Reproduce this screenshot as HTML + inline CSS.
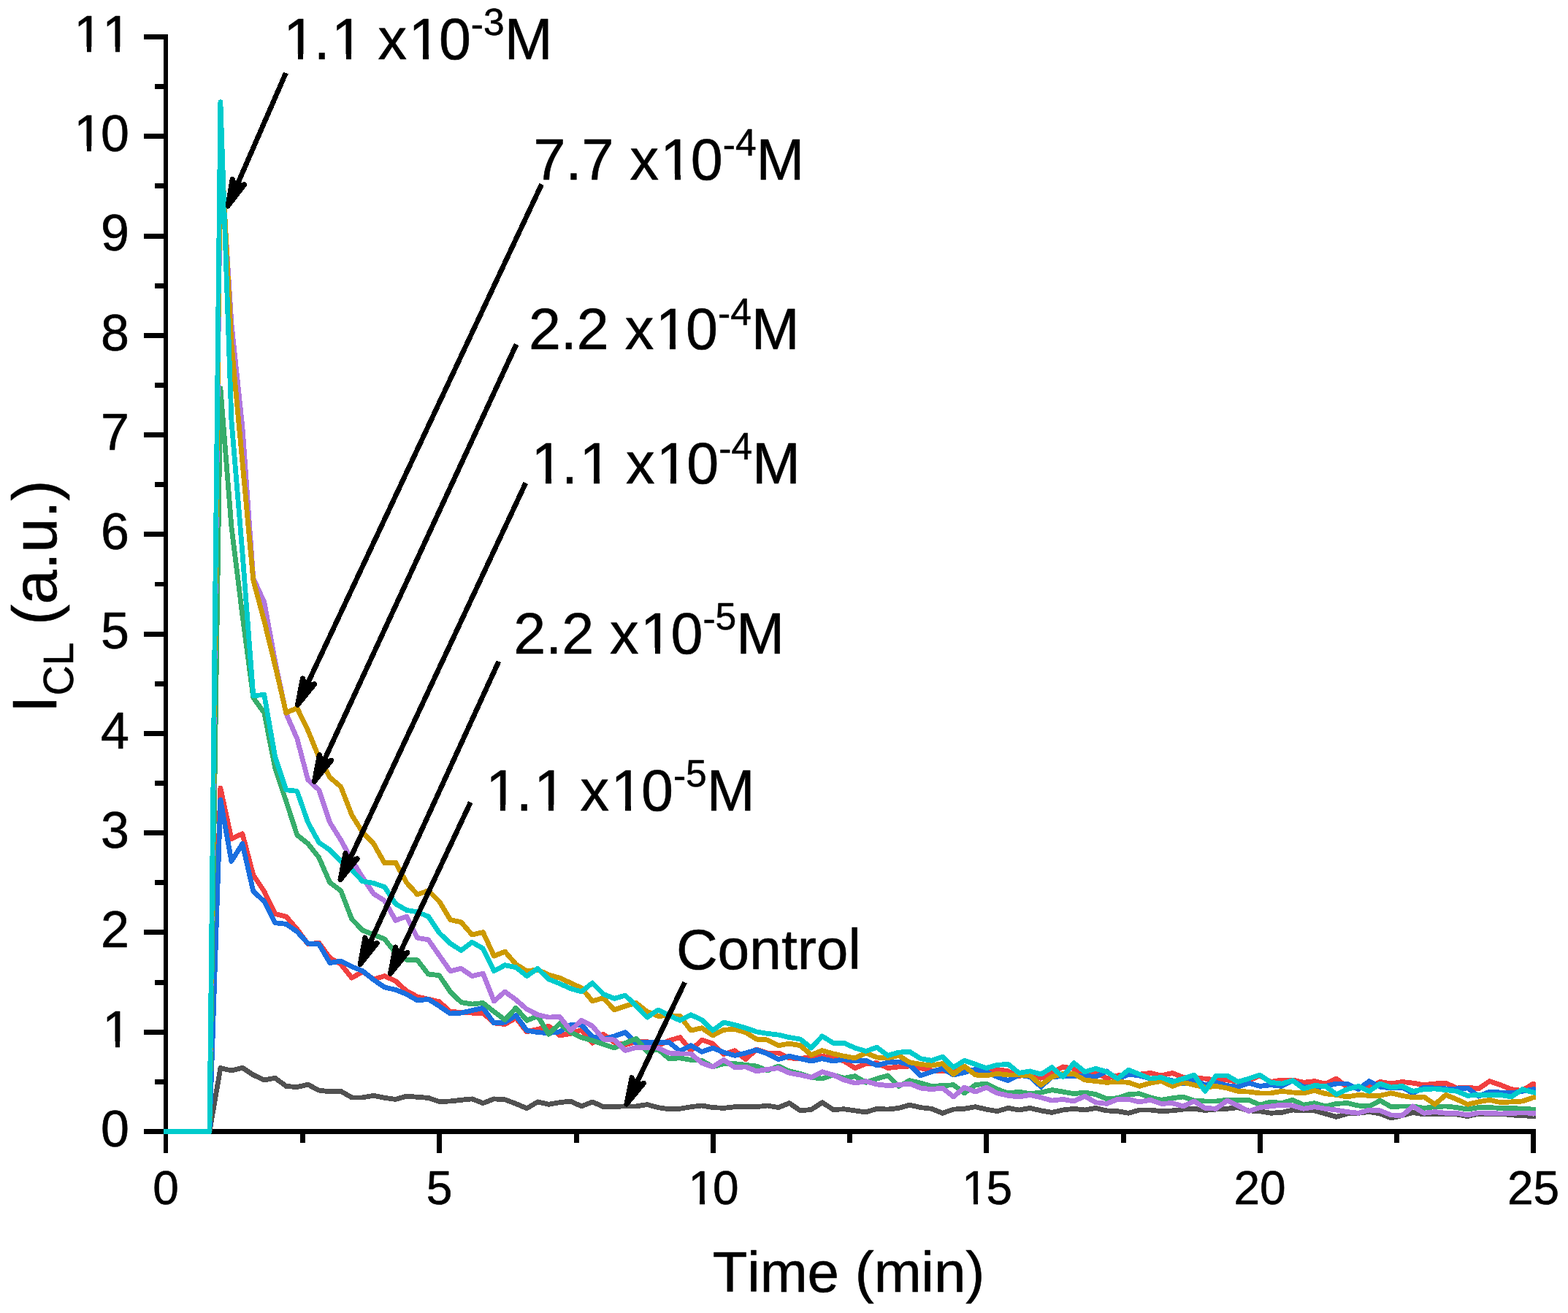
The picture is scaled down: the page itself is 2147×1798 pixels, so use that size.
<!DOCTYPE html>
<html lang="en"><head><meta charset="utf-8"><title>Chemiluminescence kinetics</title>
<style>
html,body{margin:0;padding:0;background:#fff;}
body{width:2147px;height:1798px;}
svg{display:block;font-family:"Liberation Sans", sans-serif;font-kerning:none;}
text{fill:#000;stroke:#000;stroke-width:0.6px;stroke-linejoin:round;}
.ax{fill:#000;}
.cv{fill:none;stroke-width:6.8;stroke-linejoin:round;stroke-linecap:butt;}
.yt{font-size:70px;}
.xt{font-size:64px;}
.lb{font-size:79px;}
.sp{font-size:51.5px;}
.ar{stroke:#000;stroke-width:7;fill:none;}
.ah{fill:#000;stroke:#000;stroke-width:7;stroke-linejoin:round;}
</style></head><body>
<svg width="2147" height="1798" viewBox="0 0 2147 1798" role="img" aria-label="Chemiluminescence intensity versus time">
<rect x="0" y="0" width="2147" height="1798" fill="#fff"/>
<g class="ax" shape-rendering="crispEdges">
<rect x="224" y="47" width="6" height="1506"/>
<rect x="224" y="1546" width="1879" height="7"/>
<rect x="197" y="1546" width="27" height="7"/>
<rect x="212" y="1478" width="12" height="7"/>
<rect x="197" y="1410" width="27" height="7"/>
<rect x="212" y="1342" width="12" height="7"/>
<rect x="197" y="1273" width="27" height="7"/>
<rect x="212" y="1205" width="12" height="7"/>
<rect x="197" y="1137" width="27" height="7"/>
<rect x="212" y="1069" width="12" height="7"/>
<rect x="197" y="1001" width="27" height="7"/>
<rect x="212" y="933" width="12" height="7"/>
<rect x="197" y="865" width="27" height="7"/>
<rect x="212" y="797" width="12" height="6"/>
<rect x="197" y="728" width="27" height="7"/>
<rect x="212" y="660" width="12" height="7"/>
<rect x="197" y="592" width="27" height="7"/>
<rect x="212" y="524" width="12" height="7"/>
<rect x="197" y="456" width="27" height="7"/>
<rect x="212" y="388" width="12" height="7"/>
<rect x="197" y="320" width="27" height="7"/>
<rect x="212" y="251" width="12" height="7"/>
<rect x="197" y="183" width="27" height="7"/>
<rect x="212" y="115" width="12" height="7"/>
<rect x="197" y="47" width="27" height="7"/>
<rect x="224" y="1553" width="6" height="26"/>
<rect x="411" y="1553" width="7" height="12"/>
<rect x="598" y="1553" width="7" height="26"/>
<rect x="786" y="1553" width="7" height="12"/>
<rect x="973" y="1553" width="7" height="26"/>
<rect x="1160" y="1553" width="7" height="12"/>
<rect x="1347" y="1553" width="7" height="26"/>
<rect x="1535" y="1553" width="7" height="12"/>
<rect x="1722" y="1553" width="7" height="26"/>
<rect x="1909" y="1553" width="7" height="12"/>
<rect x="2096" y="1553" width="7" height="26"/>
</g>
<g class="yt">
<text x="138.1" y="1569.8">0</text>
<text x="138.1" y="1433.5" dx="2.19">1</text>
<text x="138.1" y="1297.3">2</text>
<text x="138.1" y="1161.0">3</text>
<text x="138.1" y="1024.7">4</text>
<text x="138.1" y="888.4">5</text>
<text x="138.1" y="752.2">6</text>
<text x="138.1" y="615.9">7</text>
<text x="138.1" y="479.6">8</text>
<text x="138.1" y="343.4">9</text>
<text x="99.1" y="207.1" dx="2.19 -2.19">10</text>
<text x="99.1" y="70.8" dx="2.19">11</text>
</g>
<g class="xt">
<text x="209.2" y="1649">0</text>
<text x="583.7" y="1649">5</text>
<text x="940.4" y="1649" dx="2 -2">10</text>
<text x="1314.9" y="1649" dx="2 -2">15</text>
<text x="1689.4" y="1649">20</text>
<text x="2063.9" y="1649">25</text>
</g>
<text x="1162" y="1768.6" font-size="78" text-anchor="middle">Time (min)</text>
<text transform="translate(76.6,976) rotate(-90)" font-size="85" xml:space="preserve">I<tspan font-size="57" dy="23.2">CL</tspan><tspan dy="-23.2"> (a.u.)</tspan></text>
<defs><clipPath id="pc"><rect x="224" y="40" width="1879" height="1513"/></clipPath></defs>
<g clip-path="url(#pc)" shape-rendering="crispEdges">
<polyline class="cv" stroke="#515151" points="224.0,1549.5 227.0,1549.5 242.0,1549.5 257.0,1549.5 271.9,1549.5 286.9,1549.5 301.9,1462.6 316.9,1466.0 331.9,1462.2 346.8,1472.0 361.8,1478.9 376.8,1476.3 391.8,1487.4 406.8,1488.6 421.7,1485.2 436.7,1493.1 451.7,1494.8 466.7,1494.3 481.7,1502.9 496.6,1502.9 511.6,1500.3 526.6,1503.4 541.6,1505.4 556.6,1501.1 571.5,1502.3 586.5,1503.4 601.5,1508.5 616.5,1508.0 631.5,1506.3 646.4,1504.9 661.4,1510.6 676.4,1504.9 691.4,1505.8 706.4,1511.4 721.3,1517.8 736.3,1508.9 751.3,1512.3 766.3,1509.7 781.3,1508.0 796.2,1514.9 811.2,1508.9 826.2,1515.7 841.2,1515.4 856.2,1514.9 871.1,1514.9 886.1,1512.6 901.1,1516.6 916.1,1518.8 931.1,1518.3 946.0,1515.7 961.0,1514.0 976.0,1516.6 991.0,1517.4 1006.0,1515.7 1020.9,1515.4 1035.9,1515.7 1050.9,1514.0 1065.9,1516.6 1080.9,1510.6 1095.8,1520.9 1110.8,1519.5 1125.8,1509.7 1140.8,1519.5 1155.8,1518.8 1170.7,1520.9 1185.7,1522.9 1200.7,1518.3 1215.7,1519.1 1230.7,1517.4 1245.6,1513.1 1260.6,1516.6 1275.6,1518.3 1290.6,1524.3 1305.6,1519.1 1320.5,1518.3 1335.5,1515.7 1350.5,1519.1 1365.5,1521.7 1380.5,1517.4 1395.4,1520.0 1410.4,1517.4 1425.4,1520.9 1440.4,1523.4 1455.4,1520.0 1470.3,1518.3 1485.3,1520.0 1500.3,1517.4 1515.3,1520.9 1530.3,1521.7 1545.2,1524.3 1560.2,1520.0 1575.2,1520.0 1590.2,1521.7 1605.2,1520.9 1620.1,1519.1 1635.1,1518.3 1650.1,1520.5 1665.1,1519.1 1680.1,1518.3 1695.0,1516.6 1710.0,1520.9 1725.0,1521.7 1740.0,1524.3 1755.0,1523.4 1769.9,1520.0 1784.9,1520.9 1799.9,1520.9 1814.9,1525.1 1829.9,1529.4 1844.8,1525.1 1859.8,1524.3 1874.8,1522.6 1889.8,1525.1 1904.8,1531.1 1919.7,1527.7 1934.7,1523.4 1949.7,1526.0 1964.7,1525.1 1979.7,1526.0 1994.6,1526.0 2009.6,1528.6 2024.6,1525.1 2039.6,1525.1 2054.6,1525.1 2069.5,1526.9 2084.5,1527.7 2099.5,1528.6 2114.5,1528.6"/>
<polyline class="cv" stroke="#F14040" points="224.0,1549.5 227.0,1549.5 242.0,1549.5 257.0,1549.5 271.9,1549.5 286.9,1549.5 301.9,1079.1 316.9,1148.6 331.9,1141.7 346.8,1198.3 361.8,1220.6 376.8,1251.4 391.8,1255.1 406.8,1272.3 421.7,1292.9 436.7,1291.1 451.7,1311.7 466.7,1320.3 481.7,1339.1 496.6,1330.6 511.6,1340.9 526.6,1336.6 541.6,1343.4 556.6,1357.1 571.5,1364.9 586.5,1368.3 601.5,1371.7 616.5,1385.4 631.5,1386.3 646.4,1387.1 661.4,1387.1 676.4,1400.9 691.4,1402.6 706.4,1394.0 721.3,1412.9 736.3,1409.4 751.3,1405.1 766.3,1418.0 781.3,1415.4 796.2,1410.3 811.2,1428.3 826.2,1416.3 841.2,1427.4 856.2,1430.9 871.1,1426.6 886.1,1426.6 901.1,1431.7 916.1,1424.9 931.1,1420.6 946.0,1438.6 961.0,1424.0 976.0,1429.1 991.0,1443.7 1006.0,1438.6 1020.9,1450.6 1035.9,1436.9 1050.9,1442.0 1065.9,1442.0 1080.9,1448.9 1095.8,1449.7 1110.8,1447.1 1125.8,1446.3 1140.8,1448.9 1155.8,1453.1 1170.7,1462.6 1185.7,1456.6 1200.7,1455.7 1215.7,1462.6 1230.7,1460.9 1245.6,1460.0 1260.6,1462.6 1275.6,1466.0 1290.6,1466.9 1305.6,1466.0 1320.5,1463.4 1335.5,1466.9 1350.5,1467.7 1365.5,1464.3 1380.5,1466.9 1395.4,1473.7 1410.4,1470.3 1425.4,1476.3 1440.4,1469.4 1455.4,1460.9 1470.3,1463.4 1485.3,1471.1 1500.3,1469.4 1515.3,1476.3 1530.3,1472.9 1545.2,1472.0 1560.2,1471.1 1575.2,1469.4 1590.2,1472.9 1605.2,1469.4 1620.1,1475.4 1635.1,1476.3 1650.1,1477.1 1665.1,1478.9 1680.1,1478.9 1695.0,1481.4 1710.0,1479.7 1725.0,1472.9 1740.0,1481.4 1755.0,1478.9 1769.9,1478.9 1784.9,1482.3 1799.9,1480.6 1814.9,1484.0 1829.9,1477.1 1844.8,1489.1 1859.8,1490.0 1874.8,1488.3 1889.8,1481.4 1904.8,1484.0 1919.7,1481.4 1934.7,1483.1 1949.7,1485.7 1964.7,1484.0 1979.7,1483.1 1994.6,1490.0 2009.6,1489.1 2024.6,1490.9 2039.6,1480.6 2054.6,1485.7 2069.5,1491.7 2084.5,1493.4 2099.5,1484.0 2114.5,1490.0"/>
<polyline class="cv" stroke="#1A6FDF" points="224.0,1549.5 227.0,1549.5 242.0,1549.5 257.0,1549.5 271.9,1549.5 286.9,1549.5 301.9,1095.4 316.9,1179.4 331.9,1155.4 346.8,1220.6 361.8,1234.3 376.8,1263.7 391.8,1265.4 406.8,1275.7 421.7,1292.0 436.7,1292.9 451.7,1318.6 466.7,1316.0 481.7,1323.7 496.6,1329.7 511.6,1341.7 526.6,1352.0 541.6,1355.4 556.6,1361.4 571.5,1370.0 586.5,1368.3 601.5,1377.7 616.5,1388.0 631.5,1387.1 646.4,1383.7 661.4,1380.3 676.4,1400.9 691.4,1400.0 706.4,1390.6 721.3,1411.1 736.3,1413.7 751.3,1414.6 766.3,1412.9 781.3,1403.4 796.2,1403.4 811.2,1419.7 826.2,1423.1 841.2,1418.9 856.2,1413.7 871.1,1428.3 886.1,1427.4 901.1,1427.4 916.1,1427.4 931.1,1439.4 946.0,1431.7 961.0,1440.3 976.0,1435.1 991.0,1441.1 1006.0,1445.4 1020.9,1442.0 1035.9,1437.7 1050.9,1442.9 1065.9,1450.6 1080.9,1446.3 1095.8,1449.7 1110.8,1453.1 1125.8,1449.7 1140.8,1453.1 1155.8,1450.6 1170.7,1453.1 1185.7,1452.3 1200.7,1459.1 1215.7,1454.9 1230.7,1454.0 1245.6,1458.3 1260.6,1472.9 1275.6,1467.7 1290.6,1463.4 1305.6,1472.0 1320.5,1468.6 1335.5,1464.3 1350.5,1467.7 1365.5,1474.6 1380.5,1479.7 1395.4,1472.0 1410.4,1474.6 1425.4,1488.3 1440.4,1474.6 1455.4,1473.7 1470.3,1473.7 1485.3,1472.9 1500.3,1474.6 1515.3,1466.9 1530.3,1478.0 1545.2,1471.1 1560.2,1472.9 1575.2,1477.1 1590.2,1476.3 1605.2,1479.7 1620.1,1484.0 1635.1,1478.0 1650.1,1485.7 1665.1,1482.3 1680.1,1486.6 1695.0,1488.3 1710.0,1483.1 1725.0,1487.4 1740.0,1485.7 1755.0,1487.4 1769.9,1479.7 1784.9,1488.3 1799.9,1489.1 1814.9,1487.4 1829.9,1484.0 1844.8,1484.0 1859.8,1491.7 1874.8,1480.6 1889.8,1488.3 1904.8,1490.0 1919.7,1489.1 1934.7,1496.9 1949.7,1489.1 1964.7,1490.0 1979.7,1490.9 1994.6,1490.9 2009.6,1490.0 2024.6,1501.1 2039.6,1495.1 2054.6,1496.0 2069.5,1496.9 2084.5,1494.3 2099.5,1491.7 2114.5,1493.4"/>
<polyline class="cv" stroke="#37AD6B" points="224.0,1549.5 227.0,1549.5 242.0,1549.5 257.0,1549.5 271.9,1549.5 286.9,1549.5 301.9,531.6 316.9,721.0 331.9,842.3 346.8,955.4 361.8,976.2 376.8,1052.6 391.8,1097.1 406.8,1143.4 421.7,1155.4 436.7,1174.3 451.7,1208.6 466.7,1219.7 481.7,1258.6 496.6,1274.0 511.6,1280.0 526.6,1286.0 541.6,1304.9 556.6,1314.3 571.5,1314.8 586.5,1334.0 601.5,1335.7 616.5,1358.0 631.5,1372.6 646.4,1375.1 661.4,1373.4 676.4,1385.4 691.4,1396.6 706.4,1380.3 721.3,1397.4 736.3,1391.4 751.3,1416.3 766.3,1401.7 781.3,1413.7 796.2,1420.6 811.2,1424.9 826.2,1430.0 841.2,1435.1 856.2,1428.3 871.1,1422.3 886.1,1440.3 901.1,1436.9 916.1,1449.7 931.1,1448.9 946.0,1451.4 961.0,1452.3 976.0,1460.9 991.0,1456.6 1006.0,1456.6 1020.9,1458.3 1035.9,1460.0 1050.9,1466.0 1065.9,1460.0 1080.9,1466.9 1095.8,1470.3 1110.8,1475.4 1125.8,1477.1 1140.8,1472.0 1155.8,1476.3 1170.7,1473.7 1185.7,1482.3 1200.7,1477.1 1215.7,1472.9 1230.7,1487.4 1245.6,1479.7 1260.6,1483.1 1275.6,1487.4 1290.6,1486.6 1305.6,1485.7 1320.5,1496.9 1335.5,1485.7 1350.5,1484.0 1365.5,1491.7 1380.5,1496.9 1395.4,1495.1 1410.4,1497.7 1425.4,1496.0 1440.4,1492.6 1455.4,1495.1 1470.3,1497.7 1485.3,1496.0 1500.3,1498.6 1515.3,1504.6 1530.3,1503.7 1545.2,1498.6 1560.2,1497.7 1575.2,1502.9 1590.2,1506.3 1605.2,1503.7 1620.1,1502.0 1635.1,1507.1 1650.1,1508.0 1665.1,1508.0 1680.1,1506.3 1695.0,1506.3 1710.0,1506.3 1725.0,1513.1 1740.0,1508.9 1755.0,1510.6 1769.9,1506.3 1784.9,1513.1 1799.9,1510.6 1814.9,1514.9 1829.9,1511.4 1844.8,1510.6 1859.8,1514.0 1874.8,1514.9 1889.8,1507.1 1904.8,1515.7 1919.7,1514.9 1934.7,1514.9 1949.7,1517.4 1964.7,1515.7 1979.7,1514.9 1994.6,1516.6 2009.6,1519.1 2024.6,1516.6 2039.6,1516.6 2054.6,1517.4 2069.5,1517.4 2084.5,1518.3 2099.5,1519.1 2114.5,1519.1"/>
<polyline class="cv" stroke="#B177DE" points="224.0,1549.5 227.0,1549.5 242.0,1549.5 257.0,1549.5 271.9,1549.5 286.9,1549.5 301.9,204.5 316.9,443.0 331.9,584.7 346.8,791.8 361.8,824.5 376.8,906.3 391.8,977.2 406.8,1011.4 421.7,1068.0 436.7,1081.7 451.7,1126.3 466.7,1150.3 481.7,1177.7 496.6,1201.7 511.6,1224.0 526.6,1233.4 541.6,1260.3 556.6,1255.1 571.5,1284.3 586.5,1286.9 601.5,1308.3 616.5,1329.7 631.5,1326.3 646.4,1336.6 661.4,1333.1 676.4,1370.9 691.4,1358.0 706.4,1369.1 721.3,1382.0 736.3,1389.7 751.3,1393.1 766.3,1392.3 781.3,1411.1 796.2,1397.4 811.2,1405.1 826.2,1423.1 841.2,1424.0 856.2,1438.6 871.1,1434.3 886.1,1434.3 901.1,1435.1 916.1,1442.0 931.1,1442.9 946.0,1442.9 961.0,1455.7 976.0,1460.9 991.0,1451.4 1006.0,1461.7 1020.9,1460.9 1035.9,1466.9 1050.9,1464.3 1065.9,1462.6 1080.9,1469.4 1095.8,1472.0 1110.8,1475.4 1125.8,1467.7 1140.8,1472.0 1155.8,1478.9 1170.7,1483.1 1185.7,1480.6 1200.7,1484.9 1215.7,1486.6 1230.7,1485.7 1245.6,1484.0 1260.6,1490.0 1275.6,1491.7 1290.6,1490.0 1305.6,1502.0 1320.5,1489.1 1335.5,1495.1 1350.5,1489.1 1365.5,1496.9 1380.5,1500.3 1395.4,1502.0 1410.4,1499.4 1425.4,1502.9 1440.4,1507.1 1455.4,1505.4 1470.3,1508.0 1485.3,1501.1 1500.3,1509.7 1515.3,1511.4 1530.3,1505.4 1545.2,1505.4 1560.2,1508.9 1575.2,1506.3 1590.2,1511.4 1605.2,1510.6 1620.1,1514.9 1635.1,1508.0 1650.1,1517.4 1665.1,1518.3 1680.1,1507.1 1695.0,1514.0 1710.0,1521.7 1725.0,1516.6 1740.0,1514.9 1755.0,1513.1 1769.9,1514.0 1784.9,1518.3 1799.9,1515.7 1814.9,1518.3 1829.9,1520.0 1844.8,1522.6 1859.8,1524.3 1874.8,1520.0 1889.8,1520.9 1904.8,1526.9 1919.7,1527.7 1934.7,1514.9 1949.7,1524.3 1964.7,1522.6 1979.7,1524.3 1994.6,1524.3 2009.6,1526.9 2024.6,1523.9 2039.6,1524.3 2054.6,1525.1 2069.5,1524.3 2084.5,1523.9 2099.5,1524.3 2114.5,1524.3"/>
<polyline class="cv" stroke="#CC9900" points="224.0,1549.5 227.0,1549.5 242.0,1549.5 257.0,1549.5 271.9,1549.5 286.9,1549.5 301.9,180.0 316.9,470.2 331.9,632.4 346.8,794.6 361.8,850.4 376.8,911.8 391.8,976.3 406.8,969.4 421.7,1000.3 436.7,1037.1 451.7,1064.6 466.7,1077.4 481.7,1116.0 496.6,1140.0 511.6,1155.4 526.6,1182.0 541.6,1181.1 556.6,1208.6 571.5,1224.9 586.5,1219.7 601.5,1234.3 616.5,1259.4 631.5,1262.9 646.4,1280.0 661.4,1276.6 676.4,1309.1 691.4,1303.1 706.4,1320.3 721.3,1329.7 736.3,1328.0 751.3,1334.9 766.3,1339.1 781.3,1346.0 796.2,1352.9 811.2,1370.9 826.2,1366.6 841.2,1382.9 856.2,1377.7 871.1,1373.4 886.1,1385.4 901.1,1391.4 916.1,1390.6 931.1,1391.4 946.0,1411.1 961.0,1407.7 976.0,1418.0 991.0,1410.3 1006.0,1409.4 1020.9,1413.7 1035.9,1423.1 1050.9,1424.0 1065.9,1431.7 1080.9,1429.1 1095.8,1431.7 1110.8,1444.6 1125.8,1438.6 1140.8,1442.9 1155.8,1446.3 1170.7,1448.9 1185.7,1442.0 1200.7,1448.0 1215.7,1448.9 1230.7,1445.4 1245.6,1454.9 1260.6,1457.4 1275.6,1459.1 1290.6,1456.6 1305.6,1471.1 1320.5,1460.0 1335.5,1472.0 1350.5,1472.9 1365.5,1470.3 1380.5,1472.0 1395.4,1472.0 1410.4,1472.9 1425.4,1485.7 1440.4,1474.6 1455.4,1470.3 1470.3,1470.3 1485.3,1478.9 1500.3,1480.6 1515.3,1482.3 1530.3,1481.4 1545.2,1482.3 1560.2,1487.4 1575.2,1483.1 1590.2,1480.6 1605.2,1487.4 1620.1,1482.3 1635.1,1485.7 1650.1,1489.1 1665.1,1487.4 1680.1,1490.0 1695.0,1494.3 1710.0,1495.1 1725.0,1496.9 1740.0,1496.9 1755.0,1494.3 1769.9,1496.0 1784.9,1496.9 1799.9,1493.4 1814.9,1497.7 1829.9,1499.4 1844.8,1502.0 1859.8,1499.4 1874.8,1500.3 1889.8,1500.3 1904.8,1496.9 1919.7,1500.3 1934.7,1502.9 1949.7,1502.0 1964.7,1512.3 1979.7,1499.4 1994.6,1505.4 2009.6,1512.3 2024.6,1508.9 2039.6,1506.3 2054.6,1509.7 2069.5,1508.9 2084.5,1508.0 2099.5,1502.9 2114.5,1501.1"/>
<polyline class="cv" stroke="#00CBCC" points="224.0,1549.5 227.0,1549.5 242.0,1549.5 257.0,1549.5 271.9,1549.5 286.9,1549.5 301.9,139.8 316.9,575.2 331.9,756.4 346.8,952.6 361.8,951.5 376.8,1037.1 391.8,1081.7 406.8,1083.4 421.7,1126.3 436.7,1153.7 451.7,1164.0 466.7,1179.4 481.7,1191.4 496.6,1206.9 511.6,1209.4 526.6,1214.6 541.6,1237.7 556.6,1246.3 571.5,1248.9 586.5,1255.1 601.5,1277.4 616.5,1292.0 631.5,1301.4 646.4,1290.3 661.4,1298.9 676.4,1329.7 691.4,1321.7 706.4,1324.6 721.3,1336.6 736.3,1326.3 751.3,1340.9 766.3,1346.9 781.3,1353.7 796.2,1358.0 811.2,1346.0 826.2,1361.4 841.2,1367.4 856.2,1363.1 871.1,1377.7 886.1,1393.1 901.1,1382.9 916.1,1390.6 931.1,1397.4 946.0,1389.7 961.0,1396.6 976.0,1411.1 991.0,1400.0 1006.0,1403.4 1020.9,1407.7 1035.9,1412.9 1050.9,1415.4 1065.9,1417.1 1080.9,1420.6 1095.8,1423.1 1110.8,1435.1 1125.8,1418.9 1140.8,1428.3 1155.8,1428.3 1170.7,1435.1 1185.7,1439.4 1200.7,1434.3 1215.7,1445.4 1230.7,1441.1 1245.6,1440.3 1260.6,1449.7 1275.6,1452.3 1290.6,1447.1 1305.6,1461.7 1320.5,1452.3 1335.5,1457.4 1350.5,1462.6 1365.5,1458.3 1380.5,1457.4 1395.4,1469.4 1410.4,1466.9 1425.4,1471.1 1440.4,1461.7 1455.4,1474.6 1470.3,1455.7 1485.3,1467.7 1500.3,1463.4 1515.3,1467.7 1530.3,1477.1 1545.2,1465.1 1560.2,1471.1 1575.2,1477.1 1590.2,1475.4 1605.2,1481.4 1620.1,1477.1 1635.1,1472.0 1650.1,1494.3 1665.1,1472.9 1680.1,1472.9 1695.0,1481.4 1710.0,1477.1 1725.0,1472.0 1740.0,1482.3 1755.0,1484.0 1769.9,1479.7 1784.9,1490.9 1799.9,1486.6 1814.9,1487.4 1829.9,1498.6 1844.8,1491.7 1859.8,1487.4 1874.8,1494.3 1889.8,1484.0 1904.8,1489.1 1919.7,1487.4 1934.7,1494.3 1949.7,1491.7 1964.7,1490.9 1979.7,1492.6 1994.6,1494.3 2009.6,1500.3 2024.6,1499.4 2039.6,1499.4 2054.6,1499.4 2069.5,1502.0 2084.5,1491.7 2099.5,1496.0 2114.5,1496.9"/>
</g>
<g shape-rendering="crispEdges">
<line class="ar" x1="391.4" y1="100.0" x2="323.1" y2="256.9"/>
<polygon class="ah" points="312.1,282.1 318.2,245.5 323.1,256.9 334.7,252.7"/>
<line class="ar" x1="741.7" y1="252.2" x2="419.1" y2="940.5"/>
<polygon class="ah" points="407.4,965.4 414.5,929.0 419.1,940.5 430.8,936.7"/>
<line class="ar" x1="707.1" y1="471.4" x2="442.0" y2="1045.2"/>
<polygon class="ah" points="430.5,1070.1 437.4,1033.7 442.0,1045.2 453.7,1041.2"/>
<line class="ar" x1="719.8" y1="661.4" x2="477.5" y2="1179.8"/>
<polygon class="ah" points="465.9,1204.7 473.0,1168.3 477.5,1179.8 489.3,1175.9"/>
<line class="ar" x1="682.9" y1="905.7" x2="504.6" y2="1295.5"/>
<polygon class="ah" points="493.2,1320.5 499.9,1284.0 504.6,1295.5 516.3,1291.5"/>
<line class="ar" x1="644.3" y1="1098.6" x2="546.0" y2="1308.5"/>
<polygon class="ah" points="534.4,1333.4 541.5,1297.0 546.0,1308.5 557.8,1304.6"/>
<line class="ar" x1="937.6" y1="1345.1" x2="869.7" y2="1487.2"/>
<polygon class="ah" points="857.8,1512.0 865.2,1475.7 869.7,1487.2 881.5,1483.4"/>
</g>
<g class="lb">
<text x="385.7" y="81.4" dx="2.47 -2.47 2.47 -2.47 0 2.47 -2.47" xml:space="preserve">1.1 x10<tspan class="sp" dy="-30.5 -2.5">-3</tspan><tspan dy="33">M</tspan></text>
<text x="730.6" y="246.3" dx="0 0 0 0 0 2.47 -2.47" xml:space="preserve">7.7 x10<tspan class="sp" dy="-30.5 -2.5">-4</tspan><tspan dy="33">M</tspan></text>
<text x="723.9" y="477.7" dx="0 0 0 0 0 2.47 -2.47" xml:space="preserve">2.2 x10<tspan class="sp" dy="-30.5 -2.5">-4</tspan><tspan dy="33">M</tspan></text>
<text x="725.1" y="662.3" dx="2.47 -2.47 2.47 -2.47 0 2.47 -2.47" xml:space="preserve">1.1 x10<tspan class="sp" dy="-30.5 -2.5">-4</tspan><tspan dy="33">M</tspan></text>
<text x="703.3" y="895.0" dx="0 0 0 0 0 2.47 -2.47" xml:space="preserve">2.2 x10<tspan class="sp" dy="-30.5 -2.5">-5</tspan><tspan dy="33">M</tspan></text>
<text x="662.8" y="1110.0" dx="2.47 -2.47 2.47 -2.47 0 2.47 -2.47" xml:space="preserve">1.1 x10<tspan class="sp" dy="-30.5 -2.5">-5</tspan><tspan dy="33">M</tspan></text>
<text x="925.9" y="1326.7" font-size="78.5">Control</text>
</g>
<g fill="#fff" shape-rendering="crispEdges">
<rect x="144.4" y="1426.3" width="13.2" height="8.7"/>
<rect x="164.3" y="1426.3" width="12.6" height="8.7"/>
<rect x="105.5" y="199.9" width="13.2" height="8.7"/>
<rect x="125.4" y="199.9" width="12.6" height="8.7"/>
<rect x="105.5" y="63.6" width="13.2" height="8.7"/>
<rect x="125.4" y="63.6" width="12.6" height="8.7"/>
<rect x="144.4" y="63.6" width="13.2" height="8.7"/>
<rect x="164.3" y="63.6" width="12.6" height="8.7"/>
<rect x="946.1" y="1642.2" width="12.1" height="8.3"/>
<rect x="964.5" y="1642.2" width="11.6" height="8.3"/>
<rect x="1320.6" y="1642.2" width="12.1" height="8.3"/>
<rect x="1339.0" y="1642.2" width="11.6" height="8.3"/>
<rect x="393.0" y="73.5" width="14.7" height="9.4"/>
<rect x="415.3" y="73.5" width="14.1" height="9.4"/>
<rect x="458.9" y="73.5" width="14.7" height="9.4"/>
<rect x="481.2" y="73.5" width="14.1" height="9.4"/>
<rect x="564.3" y="73.5" width="14.7" height="9.4"/>
<rect x="586.6" y="73.5" width="14.1" height="9.4"/>
<rect x="909.2" y="238.4" width="14.7" height="9.4"/>
<rect x="931.5" y="238.4" width="14.1" height="9.4"/>
<rect x="902.5" y="469.8" width="14.7" height="9.4"/>
<rect x="924.8" y="469.8" width="14.1" height="9.4"/>
<rect x="732.4" y="654.4" width="14.7" height="9.4"/>
<rect x="754.7" y="654.4" width="14.1" height="9.4"/>
<rect x="798.3" y="654.4" width="14.7" height="9.4"/>
<rect x="820.6" y="654.4" width="14.1" height="9.4"/>
<rect x="903.7" y="654.4" width="14.7" height="9.4"/>
<rect x="926.0" y="654.4" width="14.1" height="9.4"/>
<rect x="881.9" y="887.1" width="14.7" height="9.4"/>
<rect x="904.2" y="887.1" width="14.1" height="9.4"/>
<rect x="670.1" y="1102.1" width="14.7" height="9.4"/>
<rect x="692.4" y="1102.1" width="14.1" height="9.4"/>
<rect x="736.0" y="1102.1" width="14.7" height="9.4"/>
<rect x="758.3" y="1102.1" width="14.1" height="9.4"/>
<rect x="841.4" y="1102.1" width="14.7" height="9.4"/>
<rect x="863.7" y="1102.1" width="14.1" height="9.4"/>
</g>
</svg>
</body></html>
